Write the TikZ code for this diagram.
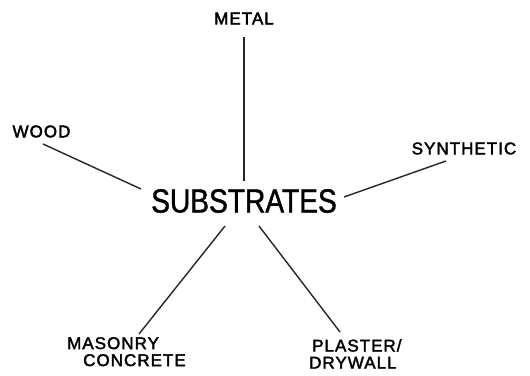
\documentclass[tikz,border=0pt]{standalone}
\usepackage{fontspec}
\setmainfont{Liberation Sans}
\newfontfamily\lblfont[FakeBold=2.2,LetterSpace=6]{Liberation Sans}
\newfontfamily\bigfont[FakeStretch=0.84,FakeBold=1.2]{Liberation Sans}
\begin{document}
\begin{tikzpicture}[x=1pt,y=-1pt,
  lbl/.style={inner sep=0pt,font=\lblfont\fontsize{17}{18}\selectfont,align=left},
  big/.style={inner sep=0pt,font=\bigfont\fontsize{33.5}{36}\selectfont},
  spoke/.style={line width=1.4pt,color=black!85}]
\useasboundingbox[fill=white] (0,0) rectangle (530,375);
\node[big] (sub) at (244,201) {SUBSTRATES};
\node[lbl] (metal) at (244,18.5) {METAL};
\node[lbl] (wood) at (41.5,131.5) {WOOD};
\node[lbl] (syn) at (464,148.5) {SYNTHETIC};
\node[lbl,anchor=north west] (mas) at (67,337) {MASONRY\\[-1pt]\hspace*{16pt}CONCRETE};
\node[lbl,anchor=north west] (pla) at (309,339) {\hspace*{3pt}PLASTER/\\[-1pt]DRYWALL};
\coordinate (m1) at (244,37);
\coordinate (m2) at (244,181);
\coordinate (w1) at (43,144);
\coordinate (w2) at (141,189);
\coordinate (s1) at (446,161);
\coordinate (s2) at (344,197);
\coordinate (c1) at (139,334);
\coordinate (c2) at (225,226);
\coordinate (p1) at (340,332);
\coordinate (p2) at (259,226);
\draw[spoke] (m1) -- (m2);
\draw[spoke] (w1) -- (w2);
\draw[spoke] (s1) -- (s2);
\draw[spoke] (c1) -- (c2);
\draw[spoke] (p1) -- (p2);
\end{tikzpicture}
\end{document}
